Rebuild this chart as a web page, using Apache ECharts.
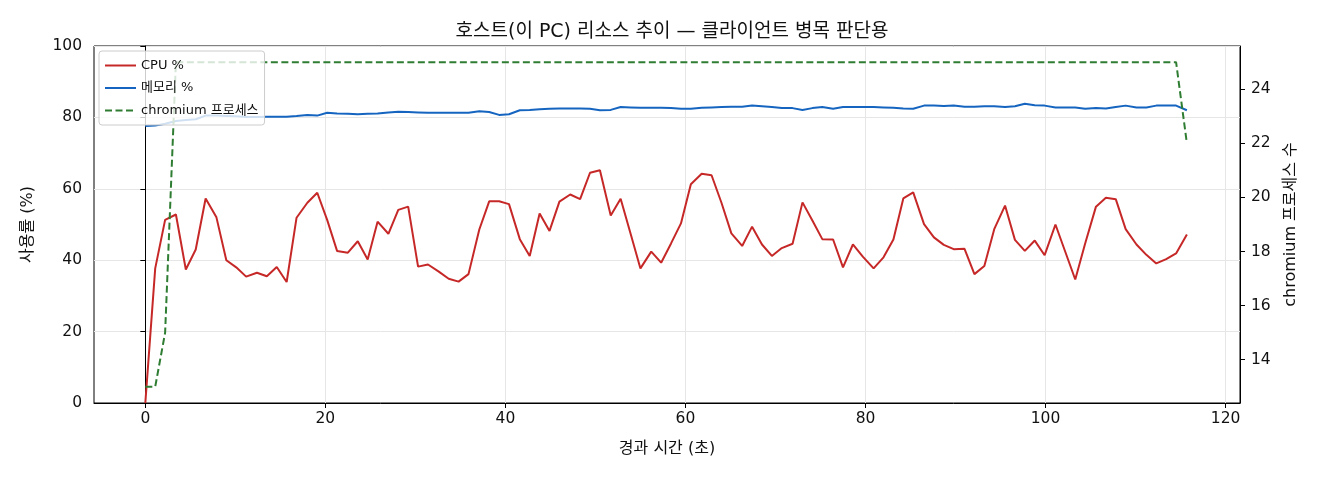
<!DOCTYPE html>
<html>
<head>
<meta charset="utf-8">
<script src="https://cdn.jsdelivr.net/npm/echarts@6/dist/echarts.min.js"></script>
<style>
  html, body { margin: 0; padding: 0; background: #fff; }
  #chart { width: 1320px; height: 480px; }
</style>
</head>
<body>
<div id="chart"></div>
<script>
// elapsed seconds for each sample
var timeSec = [
  0, 1.1, 2.2, 3.4, 4.5, 5.6, 6.7, 7.9, 9.0, 10.1,
  11.2, 12.4, 13.5, 14.6, 15.7, 16.8, 18.0, 19.1, 20.2, 21.3,
  22.5, 23.6, 24.7, 25.8, 27.0, 28.1, 29.2, 30.3, 31.4, 32.6,
  33.7, 34.8, 35.9, 37.1, 38.2, 39.3, 40.4, 41.6, 42.7, 43.8,
  44.9, 46.0, 47.2, 48.3, 49.4, 50.5, 51.7, 52.8, 53.9, 55.0,
  56.2, 57.3, 58.4, 59.5, 60.6, 61.8, 62.9, 64.0, 65.1, 66.3,
  67.4, 68.5, 69.6, 70.7, 71.9, 73.0, 74.1, 75.2, 76.4, 77.5,
  78.6, 79.7, 80.9, 82.0, 83.1, 84.2, 85.3, 86.5, 87.6, 88.7,
  89.8, 91.0, 92.1, 93.2, 94.3, 95.5, 96.6, 97.7, 98.8, 99.9,
  101.1, 102.2, 103.3, 104.4, 105.6, 106.7, 107.8, 108.9, 110.1, 111.2,
  112.3, 113.4, 114.5, 115.7
];

var cpuPct = [
  0, 37.7, 51.3, 52.8, 37.4, 43.0, 57.3, 52.0, 40.0, 38.0,
  35.4, 36.5, 35.5, 38.1, 33.9, 51.9, 56.1, 58.9, 51.3, 42.6,
  42.1, 45.3, 40.2, 50.8, 47.4, 54.1, 55.0, 38.2, 38.8, 36.8,
  34.8, 34.0, 36.1, 48.6, 56.5, 56.5, 55.7, 45.9, 41.2, 53.1,
  48.2, 56.4, 58.4, 57.1, 64.5, 65.2, 52.5, 57.2, 47.5, 37.7,
  42.4, 39.3, 44.7, 50.3, 61.3, 64.2, 63.8, 56.1, 47.5, 44.0,
  49.4, 44.4, 41.2, 43.4, 44.6, 56.2, 51.1, 45.9, 45.8, 38.0,
  44.4, 41.0, 37.7, 40.8, 45.8, 57.3, 59.0, 50.1, 46.4, 44.3,
  43.1, 43.2, 36.1, 38.4, 48.7, 55.3, 45.7, 42.6, 45.5, 41.4,
  50.0, 42.3, 34.6, 44.7, 55.0, 57.5, 57.1, 48.7, 44.4, 41.5,
  39.1, 40.3, 41.9, 47.2
];

var memPct = [
  77.6, 77.7, 78.2, 79.0, 79.3, 79.5, 80.5, 80.5, 80.4, 80.3,
  80.1, 80.1, 80.2, 80.2, 80.2, 80.4, 80.7, 80.5, 81.3, 81.1,
  81.0, 80.9, 81.0, 81.1, 81.4, 81.6, 81.5, 81.4, 81.3, 81.3,
  81.3, 81.3, 81.3, 81.7, 81.5, 80.7, 80.9, 82.0, 82.1, 82.3,
  82.4, 82.5, 82.5, 82.5, 82.4, 82.0, 82.1, 82.9, 82.8, 82.7,
  82.7, 82.7, 82.6, 82.4, 82.4, 82.7, 82.8, 82.9, 83.0, 83.0,
  83.3, 83.1, 82.9, 82.6, 82.6, 82.1, 82.6, 82.9, 82.4, 82.9,
  82.9, 82.9, 82.9, 82.8, 82.7, 82.5, 82.4, 83.3, 83.3, 83.2,
  83.3, 83.0, 83.0, 83.1, 83.1, 82.9, 83.1, 83.8, 83.4, 83.3,
  82.8, 82.8, 82.8, 82.4, 82.6, 82.5, 82.9, 83.3, 82.8, 82.8,
  83.3, 83.3, 83.3, 82.0
];

var chromiumProc = [
  13, 13, 15, 25, 25, 25, 25, 25, 25, 25,
  25, 25, 25, 25, 25, 25, 25, 25, 25, 25,
  25, 25, 25, 25, 25, 25, 25, 25, 25, 25,
  25, 25, 25, 25, 25, 25, 25, 25, 25, 25,
  25, 25, 25, 25, 25, 25, 25, 25, 25, 25,
  25, 25, 25, 25, 25, 25, 25, 25, 25, 25,
  25, 25, 25, 25, 25, 25, 25, 25, 25, 25,
  25, 25, 25, 25, 25, 25, 25, 25, 25, 25,
  25, 25, 25, 25, 25, 25, 25, 25, 25, 25,
  25, 25, 25, 25, 25, 25, 25, 25, 25, 25,
  25, 25, 25, 22
];

var xTicks = [0, 20, 40, 60, 80, 100, 120];
var rightTicks = [14, 16, 18, 20, 22, 24];

function pairs(ys){
  var out = [];
  for (var i = 0; i < timeSec.length; i++){
    out.push([timeSec[i], ys[i]]);
  }
  return out;
}

// latin glyphs from DejaVu (wide like the original), hangul falls back to Noto CJK
var FONT = "'DejaVu Sans', 'Noto Sans CJK KR', sans-serif";

var myChart = echarts.init(document.getElementById('chart'));

var option = {
  backgroundColor: '#fff',
  animation: false,
  textStyle: { fontFamily: FONT },
  title: {
    text: '호스트(이 PC) 리소스 추이 — 클라이언트 병목 판단용',
    left: 667, top: 18, textAlign: 'center',
    textStyle: { fontSize: 19, fontWeight: 'normal', color: '#111', fontFamily: FONT }
  },
  grid: {
    left: 94, right: 80, top: 46, bottom: 77,
    show: true, borderColor: '#000', borderWidth: 1, backgroundColor: 'transparent'
  },
  legend: {
    orient: 'vertical', left: 99, top: 51,
    itemWidth: 31, itemHeight: 14, itemGap: 9.5,
    padding: [8, 6, 8, 5],
    backgroundColor: 'rgba(255,255,255,0.8)',
    borderColor: '#cccccc', borderWidth: 1, borderRadius: 3,
    itemStyle: { opacity: 0 },
    textStyle: { fontSize: 13, color: '#111', fontFamily: FONT },
    data: ['CPU %', '메모리 %', 'chromium 프로세스']
  },
  xAxis: {
    type: 'value', min: -5.7, max: 121.6,
    name: '경과 시간 (초)', nameLocation: 'middle', nameGap: 38,
    nameTextStyle: { fontSize: 16, color: '#111' },
    axisLine: { lineStyle: { color: '#000' } },
    axisTick: { length: 5, customValues: xTicks, lineStyle: { color: '#000' } },
    axisLabel: { customValues: xTicks, fontSize: 15.5, color: '#111', margin: 8 },
    splitLine: { show: true, lineStyle: { color: '#e6e6e6', width: 1 } }
  },
  yAxis: [
    {
      type: 'value', min: 0, max: 100, interval: 20,
      name: '사용률 (%)', nameLocation: 'middle', nameGap: 58, nameRotate: 90,
      nameTextStyle: { fontSize: 16, color: '#111' },
      axisLine: { show: true, lineStyle: { color: '#000' } },
      axisTick: { show: true, length: 5, lineStyle: { color: '#000' } },
      axisLabel: { fontSize: 15.5, color: '#111', margin: 12 },
      splitLine: { show: true, lineStyle: { color: '#e6e6e6', width: 1 } }
    },
    {
      type: 'value', min: 12.4, max: 25.6, position: 'right',
      name: 'chromium 프로세스 수', nameLocation: 'middle', nameGap: 43, nameRotate: 90,
      nameTextStyle: { fontSize: 16, color: '#111' },
      axisLine: { show: true, lineStyle: { color: '#000' } },
      axisTick: { show: true, length: 5, customValues: rightTicks, lineStyle: { color: '#000' } },
      axisLabel: { customValues: rightTicks, fontSize: 15.5, color: '#111', margin: 11 },
      splitLine: { show: false }
    }
  ],
  series: [
    {
      name: 'CPU %', type: 'line', yAxisIndex: 0, showSymbol: false, symbol: 'none',
      data: pairs(cpuPct), color: '#c62828',
      lineStyle: { width: 2, color: '#c62828' }, z: 3
    },
    {
      name: '메모리 %', type: 'line', yAxisIndex: 0, showSymbol: false, symbol: 'none',
      data: pairs(memPct), color: '#1565c0',
      lineStyle: { width: 2, color: '#1565c0' }, z: 3
    },
    {
      name: 'chromium 프로세스', type: 'line', yAxisIndex: 1, showSymbol: false, symbol: 'none',
      data: pairs(chromiumProc), color: '#2e7d32',
      lineStyle: { width: 2, color: '#2e7d32', type: [7, 3.5] }, z: 3
    }
  ]
};

myChart.setOption(option);
</script>
</body>
</html>
